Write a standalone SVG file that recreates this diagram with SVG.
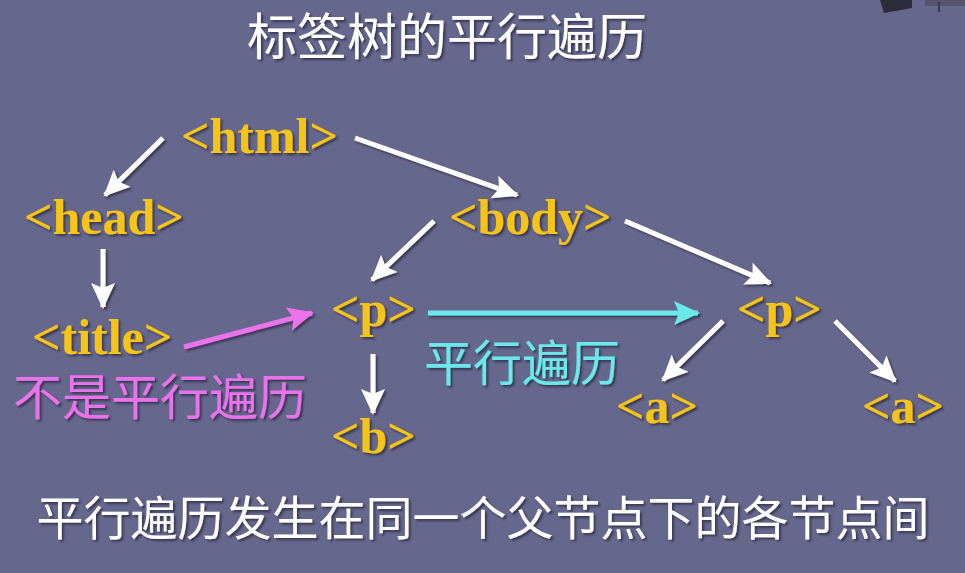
<svg xmlns="http://www.w3.org/2000/svg" width="965" height="573" viewBox="0 0 965 573">
  <defs>
    <style>
      .tag { font-family: "Liberation Serif", "Times New Roman", serif; font-weight: bold; font-size: 50px; fill: #f6c413; }
      .cjk { font-family: "Noto Sans CJK SC", "Noto Sans", sans-serif; font-weight: 400; }
      .title { font-size: 50px; fill: #ffffff; }
      .note { font-size: 47px; fill: #ffffff; }
      .pink { font-size: 49px; fill: #ea72ea; }
      .cyan { font-size: 49px; fill: #6ae8ea; }
      .edge { stroke: #ffffff; stroke-width: 5; fill: none; }
      .edge-cyan { stroke: #6ae8ea; stroke-width: 5; fill: none; }
      .edge-pink { stroke: #ea72ea; stroke-width: 5; fill: none; }
    </style>
    <filter id="shadow" x="-10%" y="-20%" width="130%" height="150%">
      <feDropShadow dx="2" dy="2" stdDeviation="1.2" flood-color="#2a2a40" flood-opacity="0.75"/>
    </filter>
    <marker id="head-white" markerUnits="userSpaceOnUse" markerWidth="28" markerHeight="24" refX="24" refY="12" orient="auto">
      <path d="M0,0 L26,12 L0,24 L5,12 Z" fill="#ffffff"/>
    </marker>
    <marker id="head-cyan" markerUnits="userSpaceOnUse" markerWidth="28" markerHeight="24" refX="24" refY="12" orient="auto">
      <path d="M0,0 L26,12 L0,24 L5,12 Z" fill="#6ae8ea"/>
    </marker>
    <marker id="head-pink" markerUnits="userSpaceOnUse" markerWidth="28" markerHeight="24" refX="24" refY="12" orient="auto">
      <path d="M0,0 L26,12 L0,24 L5,12 Z" fill="#ea72ea"/>
    </marker>
  </defs>

  <!-- slide background -->
  <rect x="0" y="0" width="965" height="573" fill="#66678c"/>

  <!-- corner logo fragment -->
  <g id="corner-logo">
    <polygon points="880,0 912,0 912,8 884,13" fill="#2c2c3a"/>
    <rect x="925" y="0" width="40" height="6" fill="#55556a"/>
    <rect x="938" y="2" width="2" height="10" fill="#3a3a4c"/>
  </g>

  <g id="title" filter="url(#shadow)">
    <text class="cjk title" x="447" y="55" text-anchor="middle">标签树的平行遍历</text>
  </g>

  <!-- tree connectors -->
  <g id="connectors" filter="url(#shadow)">
    <line class="edge" x1="163" y1="138" x2="105" y2="195" marker-end="url(#head-white)"/>
    <line class="edge" x1="355" y1="138" x2="517" y2="195" marker-end="url(#head-white)"/>
    <line class="edge" x1="103" y1="249" x2="103" y2="307" marker-end="url(#head-white)"/>
    <line class="edge" x1="434" y1="221" x2="372" y2="280" marker-end="url(#head-white)"/>
    <line class="edge" x1="625" y1="221" x2="770" y2="283" marker-end="url(#head-white)"/>
    <line class="edge" x1="373" y1="354" x2="373" y2="413" marker-end="url(#head-white)"/>
    <line class="edge" x1="723" y1="321" x2="663" y2="380" marker-end="url(#head-white)"/>
    <line class="edge" x1="835" y1="321" x2="895" y2="381" marker-end="url(#head-white)"/>
    <line class="edge-cyan" x1="428" y1="313" x2="698" y2="313" marker-end="url(#head-cyan)"/>
    <line class="edge-pink" x1="184" y1="347" x2="312" y2="313" marker-end="url(#head-pink)"/>
  </g>

  <!-- tag nodes -->
  <g id="node-html" filter="url(#shadow)"><text class="tag" x="181" y="153">&lt;html&gt;</text></g>
  <g id="node-head" filter="url(#shadow)"><text class="tag" x="24" y="234">&lt;head&gt;</text></g>
  <g id="node-body" filter="url(#shadow)"><text class="tag" x="449" y="234">&lt;body&gt;</text></g>
  <g id="node-title" filter="url(#shadow)"><text class="tag" x="32" y="354">&lt;title&gt;</text></g>
  <g id="node-p1" filter="url(#shadow)"><text class="tag" x="331" y="326">&lt;p&gt;</text></g>
  <g id="node-p2" filter="url(#shadow)"><text class="tag" x="737" y="326">&lt;p&gt;</text></g>
  <g id="node-b" filter="url(#shadow)"><text class="tag" x="331" y="453">&lt;b&gt;</text></g>
  <g id="node-a1" filter="url(#shadow)"><text class="tag" x="616" y="423">&lt;a&gt;</text></g>
  <g id="node-a2" filter="url(#shadow)"><text class="tag" x="862" y="423">&lt;a&gt;</text></g>

  <!-- annotations -->
  <g id="label-parallel" filter="url(#shadow)">
    <text class="cjk cyan" x="424" y="381">平行遍历</text>
  </g>
  <g id="label-not-parallel" filter="url(#shadow)">
    <text class="cjk pink" x="13" y="415">不是平行遍历</text>
  </g>
  <g id="caption" filter="url(#shadow)">
    <text class="cjk note" x="483" y="535" text-anchor="middle">平行遍历发生在同一个父节点下的各节点间</text>
  </g>
</svg>
